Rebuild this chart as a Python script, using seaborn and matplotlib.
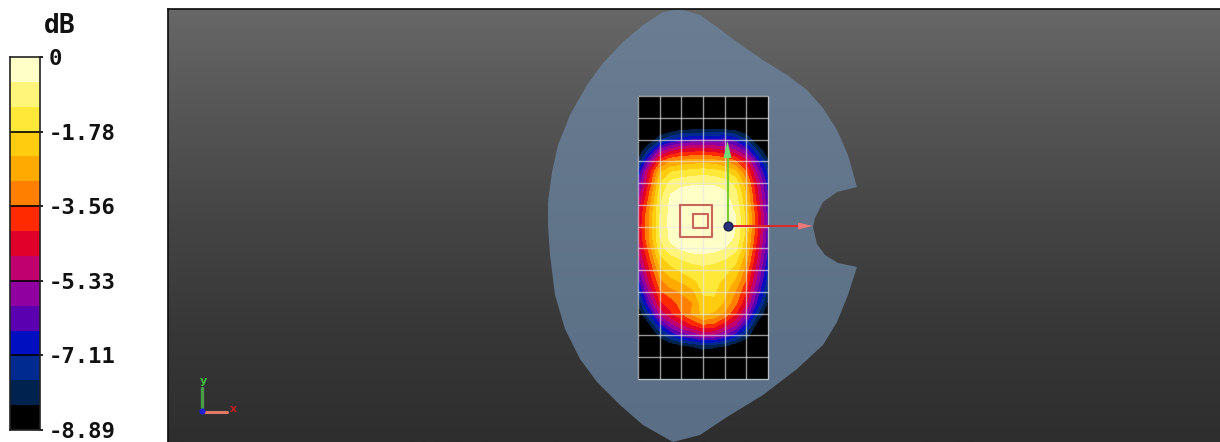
import numpy as np
import pandas as pd
import seaborn as sns
import matplotlib
matplotlib.use('Agg')
import matplotlib.pyplot as plt
from matplotlib.colors import ListedColormap, LinearSegmentedColormap
from matplotlib.patches import Polygon

W, H = 1220, 442

# colour scale of the legend, top to bottom
band_colors = ['#ffffc8', '#fff57a', '#ffe838', '#ffcc10', '#ffaa00',
               '#ff7f00', '#ff2a00', '#e0002a', '#c0006e', '#9000a0',
               '#5a00b0', '#0010c0', '#002a90', '#00224f', '#000000']
tick_labels = ['0', '-1.78', '-3.56', '-5.33', '-7.11', '-8.89']
db_min, db_max = -8.89, 0

field = [
    [-8.89] * 13,
    [-8.89] * 13,
    [-8.89] * 13,
    [-8.89, -8.89, -8.89, -8.89, -8.6, -8.5, -8.5, -8.5, -8.5, -8.7, -8.89, -8.89, -8.89],
    [-8.89, -8.89, -8.0, -7.2, -6.8, -6.6, -6.5, -6.5, -6.4, -6.8, -7.8, -8.89, -8.89],
    [-8.89, -7.6, -5.8, -5.0, -4.5, -4.4, -4.4, -4.5, -4.8, -5.3, -6.2, -7.8, -8.89],
    [-8.2, -6.0, -3.8, -3.0, -2.8, -2.7, -2.6, -2.7, -3.0, -3.5, -4.6, -6.4, -8.2],
    [-7.2, -4.6, -2.5, -1.8, -1.6, -1.5, -1.4, -1.5, -1.7, -2.2, -3.5, -5.6, -7.4],
    [-6.5, -4.2, -1.9, -1.0, -0.8, -0.7, -0.7, -0.7, -0.9, -1.4, -2.8, -4.9, -6.9],
    [-5.8, -3.7, -1.5, -0.6, -0.3, -0.25, -0.25, -0.25, -0.45, -1.0, -2.4, -4.6, -6.6],
    [-5.2, -3.3, -1.3, -0.45, -0.12, -0.08, -0.08, -0.08, -0.25, -0.8, -2.2, -4.3, -6.4],
    [-4.9, -3.0, -1.2, -0.4, -0.1, 0, 0, 0, -0.15, -0.6, -2.0, -4.1, -6.3],
    [-4.8, -3.0, -1.2, -0.4, -0.1, 0, 0, 0, -0.1, -0.6, -2.0, -4.1, -6.3],
    [-4.9, -3.0, -1.2, -0.45, -0.12, -0.05, -0.05, -0.1, -0.2, -0.7, -2.1, -4.2, -6.4],
    [-5.2, -3.4, -1.5, -0.8, -0.5, -0.3, -0.3, -0.4, -0.6, -1.0, -2.4, -4.5, -6.6],
    [-5.6, -3.9, -2.0, -1.5, -1.2, -1.0, -0.9, -1.0, -1.2, -1.6, -2.8, -4.8, -6.9],
    [-6.2, -4.3, -2.6, -2.0, -1.7, -1.5, -1.4, -1.5, -1.6, -2.0, -3.3, -5.2, -7.2],
    [-6.8, -4.8, -3.2, -2.6, -2.3, -1.9, -1.6, -1.6, -1.9, -2.5, -3.7, -5.6, -7.5],
    [-7.6, -5.4, -3.7, -3.2, -2.9, -2.6, -1.7, -1.7, -2.2, -3.0, -4.2, -6.1, -8.0],
    [-8.3, -6.2, -4.3, -3.9, -3.3, -3.0, -2.0, -1.9, -2.5, -3.4, -4.7, -6.7, -8.5],
    [-8.89, -7.3, -5.3, -4.3, -3.6, -2.9, -2.2, -2.5, -3.1, -4.1, -5.6, -7.6, -8.89],
    [-8.89, -8.5, -6.8, -5.6, -4.8, -4.1, -3.6, -3.7, -4.5, -5.3, -6.8, -8.6, -8.89],
    [-8.89, -8.89, -8.2, -7.2, -6.4, -6.0, -5.4, -5.5, -6.1, -6.9, -8.1, -8.89, -8.89],
    [-8.89, -8.89, -8.89, -8.89, -8.6, -8.3, -8.1, -8.2, -8.4, -8.89, -8.89, -8.89, -8.89],
    [-8.89] * 13,
    [-8.89] * 13,
    [-8.89] * 13,
]

# phantom outline, traced in pixels
phantom_x = [680, 663, 643, 623, 603, 587, 570, 558, 552, 548, 548, 550, 555, 565, 580,
             597, 620, 643, 673, 700, 727, 763, 797, 823, 837, 848, 857, 838, 825, 817,
             813, 815, 823, 837, 857, 848, 837, 823, 807, 787, 763, 737, 717, 700]
phantom_y = [9, 12, 25, 42, 63, 85, 115, 145, 172, 202, 225, 255, 295, 329, 359,
             382, 405, 425, 442, 435, 417, 395, 369, 345, 322, 295, 267, 263, 255, 244,
             227, 218, 202, 192, 187, 155, 130, 108, 90, 75, 60, 42, 27, 15]

bg_levels = ['#676767', '#555555', '#444444', '#373737', '#2e2e2e']
phantom_levels = ['#6a7d92', '#64778d', '#5e7288', '#5a6f86']

sns.set_theme(style='white')
fig = plt.figure(figsize=(W / 100, H / 100), dpi=100, facecolor='white')
font = dict(family='DejaVu Sans Mono', fontweight='bold', color='#111111')

# legend strip
cax = fig.add_axes([10 / W, 1 - 430 / H, 30 / W, 373 / H])
strip = pd.DataFrame(np.arange(len(band_colors))[:, None])
sns.heatmap(strip, ax=cax, cmap=ListedColormap(band_colors), cbar=False,
            xticklabels=False, yticklabels=False)
cax.hlines(range(3, 15, 3), 0, 1, color='black', lw=1.2)
for s in cax.spines.values():
    s.set_visible(True)
    s.set_color('#222222')
    s.set_linewidth(1.2)
cax.yaxis.tick_right()
cax.set_yticks(np.arange(0, 16, 3))
cax.set_yticklabels(tick_labels, fontsize=16, **font)
cax.tick_params(axis='y', length=2, width=1.2, pad=4, color='black', left=False, right=True)
cax.set_ylabel('')
fig.text(60 / W, 1 - 26 / H, 'dB', ha='center', va='center', fontsize=19, **font)

# viewport
ax = fig.add_axes([168 / W, 0, (W - 168) / W, (H - 9) / H])
bg = LinearSegmentedColormap.from_list('bg', bg_levels)
ax.imshow(np.linspace(0, 1, 200)[:, None], cmap=bg, aspect='auto', extent=(168, W, H, 9), zorder=0)

# phantom, shaded top to bottom
outline = Polygon(np.column_stack([phantom_x, phantom_y]), closed=True, transform=ax.transData)
ph_cmap = LinearSegmentedColormap.from_list('ph', phantom_levels)
shade = ax.imshow(np.linspace(0, 1, 200)[:, None], cmap=ph_cmap, aspect='auto',
                  extent=(540, 870, H, 9), zorder=1)
shade.set_clip_path(outline)

x0, x1, y0, y1 = 638, 768, 96, 379
ax.fill([x0, x1, x1, x0], [y0, y0, y1, y1], color='black', lw=0, zorder=2)
xs = np.linspace(x0, x1, 13)
ys = np.linspace(y0, y1, 27)
levels = np.linspace(db_min, db_max, 16)
ax.contourf(xs, ys, np.array(field), levels=levels, colors=band_colors[::-1], zorder=3)
ax.vlines(xs[::2], y0, y1, color='#e6e6e6', lw=1.0, alpha=0.65, zorder=4)
ax.hlines(ys[::2], x0, x1, color='#e6e6e6', lw=1.0, alpha=0.65, zorder=4)

# peak search boxes
ax.plot([680, 712, 712, 680, 680], [204.5, 204.5, 237, 237, 204.5], color='#c9655a', lw=1.5, zorder=5)
ax.plot([693, 708, 708, 693, 693], [213.5, 213.5, 228, 228, 213.5], color='#c9655a', lw=1.5, zorder=5)

# origin arrows
ax.plot([727.5, 727.5], [226, 150], color='#78cc30', lw=1.5, zorder=5)
ax.fill([723.5, 731.5, 727.5], [158, 158, 141], color='#70dc78', lw=0, zorder=6)
ax.plot([727.5, 800], [226, 226], color='#e02828', lw=1.4, zorder=5)
ax.fill([798, 798, 813], [222.5, 229.5, 226], color='#ea7878', lw=0, zorder=6)
ax.scatter([727.5], [226], s=40, color='#26307c', edgecolor='#181f48', zorder=7)

# small triad
ax.plot([202, 202], [409, 388], color='#4da84d', lw=2.4, alpha=0.9, zorder=5)
ax.plot([202, 227], [411.5, 411.5], color='#e07868', lw=2.2, zorder=5)
ax.scatter([202], [411], s=12, color='#2020d0', zorder=6)
ax.text(203.5, 380.5, 'y', color='#40c040', fontsize=8, ha='center', va='center', fontweight='bold')
ax.text(233, 409.5, 'x', color='#c02020', fontsize=8, ha='center', va='center', fontweight='bold')

ax.set_xlim(168, W)
ax.set_ylim(H, 9)
ax.set_xticks([])
ax.set_yticks([])
for s in ax.spines.values():
    s.set_visible(False)
ax.spines['left'].set_visible(True)
ax.spines['top'].set_visible(True)
ax.spines['left'].set_color('#111111')
ax.spines['top'].set_color('#111111')

fig.savefig('out.png', dpi=100)
